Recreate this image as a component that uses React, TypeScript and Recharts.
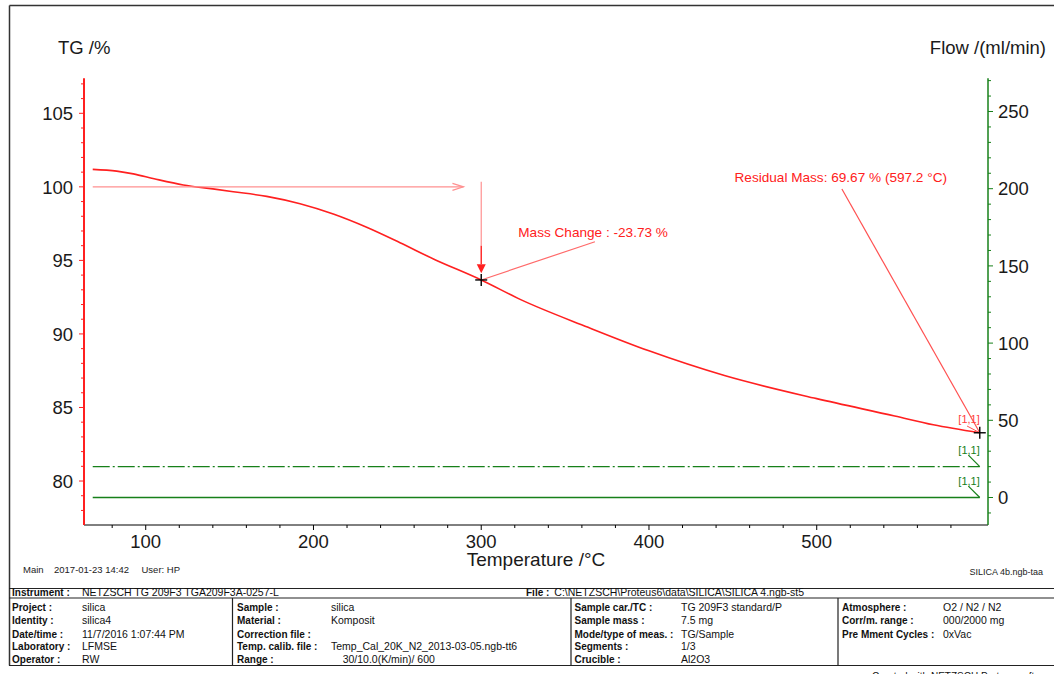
import React from "react";
import {
  ComposedChart,
  Line,
  XAxis,
  YAxis,
  ReferenceLine,
  ReferenceDot,
} from "recharts";

const FONT = '"Liberation Sans", Arial, Helvetica, sans-serif';

// TG curve: sample temperature (°C) and relative mass (%)
const temperatures = [
  68.4, 82.7, 92.6, 105, 122.4, 140, 152.2, 172.1, 192, 211.8, 231.7, 251.6,
  271.5, 300, 323.2, 363.7, 400, 445, 500, 546.5, 569.5, 597.2,
];
const tgValues = [
  101.19, 101.07, 100.88, 100.55, 100.13, 99.86, 99.67, 99.35, 98.85, 98.15,
  97.25, 96.2, 95.1, 93.67, 92.35, 90.45, 88.85, 87.17, 85.6, 84.42, 83.82,
  83.28,
];

// gas flows (ml/min) over the same run
const flowTemps = [68.4, 597.2];
const purgeFlow = [20, 20];
const protectiveFlow = [0, 0];

const tempTicks = [
  80, 100, 120, 140, 160, 180, 200, 220, 240, 260, 280, 300, 320, 340, 360,
  380, 400, 420, 440, 460, 480, 500, 520, 540, 560, 580,
];
const tgTicks = [
  78, 79, 80, 81, 82, 83, 84, 85, 86, 87, 88, 89, 90, 91, 92, 93, 94, 95, 96,
  97, 98, 99, 100, 101, 102, 103, 104, 105, 106, 107,
];
const flowTicks = [
  -10, 0, 10, 20, 30, 40, 50, 60, 70, 80, 90, 100, 110, 120, 130, 140, 150,
  160, 170, 180, 190, 200, 210, 220, 230, 240, 250, 260, 270,
];

// evaluation results
const stepStartMass = 100;
const stepTemp = 300;
const stepMass = 93.67;
const massChangeText = "Mass Change : -23.73 %";
const residualTemp = 597.2;
const residualMass = 83.28;
const residualText = "Residual Mass: 69.67 % (597.2 °C)";
const segmentTag = "[1,1]";

// measurement header
const instrument = "NETZSCH TG 209F3 TGA209F3A-0257-L";
const filePath = "C:\\NETZSCH\\Proteus6\\data\\SILICA\\SILICA 4.ngb-st5";
const headerColumns: [string, string][][] = [
  [
    ["Project :", "silica"],
    ["Identity :", "silica4"],
    ["Date/time :", "11/7/2016 1:07:44 PM"],
    ["Laboratory :", "LFMSE"],
    ["Operator :", "RW"],
  ],
  [
    ["Sample :", "silica"],
    ["Material :", "Komposit"],
    ["Correction file :", ""],
    ["Temp. calib. file :", "Temp_Cal_20K_N2_2013-03-05.ngb-tt6"],
    ["Range :", "    30/10.0(K/min)/ 600"],
  ],
  [
    ["Sample car./TC :", "TG 209F3 standard/P"],
    ["Sample mass :", "7.5 mg"],
    ["Mode/type of meas. :", "TG/Sample"],
    ["Segments :", "1/3"],
    ["Crucible :", "Al2O3"],
  ],
  [
    ["Atmosphere :", "O2 / N2 / N2"],
    ["Corr/m. range :", "000/2000 mg"],
    ["Pre Mment Cycles :", "0xVac"],
  ],
];

const RED = "#ff2020";
const PINK = "#ff9090";
const GREEN = "#17801a";

const tgData = temperatures.map((t, i) => ({ temp: t, tg: tgValues[i] }));
const purgeData = flowTemps.map((t, i) => ({ temp: t, flow: purgeFlow[i] }));
const protData = flowTemps.map((t, i) => ({ temp: t, flow: protectiveFlow[i] }));

const TempTick = (props: any) => {
  const { x, y, payload } = props;
  const v = payload.value;
  const major = v % 100 === 0;
  return (
    <g>
      <line x1={x} y1={y} x2={x} y2={y + (major ? 5 : 3)} stroke="#000" strokeWidth={1} />
      {major && (
        <text x={x} y={y + 23} textAnchor="middle" fontSize={18.5} fill="#1a1a1a" fontFamily={FONT}>
          {v}
        </text>
      )}
    </g>
  );
};

const TgTick = (props: any) => {
  const { x, y, payload } = props;
  const v = payload.value;
  const major = v % 5 === 0;
  return (
    <g>
      <line x1={x} y1={y} x2={x - (major ? 5 : 3)} y2={y} stroke={RED} strokeWidth={1} />
      {major && (
        <text x={x - 11} y={y + 6.7} textAnchor="end" fontSize={18.5} fill="#1a1a1a" fontFamily={FONT}>
          {v}
        </text>
      )}
    </g>
  );
};

const FlowTick = (props: any) => {
  const { x, y, payload } = props;
  const v = payload.value;
  const major = v % 50 === 0;
  return (
    <g>
      <line x1={x} y1={y} x2={x + (major ? 5 : 3)} y2={y} stroke={GREEN} strokeWidth={1} />
      {major && (
        <text x={x + 10} y={y + 6.7} textAnchor="start" fontSize={18.5} fill="#1a1a1a" fontFamily={FONT}>
          {v}
        </text>
      )}
    </g>
  );
};

// line segment with an optional arrow head at its end point
const arrow = (color: string, head: "open" | "filled" | "none", width = 1.2) =>
  function Arrow(props: any) {
    const { x1, y1, x2, y2 } = props;
    const len = Math.hypot(x2 - x1, y2 - y1) || 1;
    const ux = (x2 - x1) / len;
    const uy = (y2 - y1) / len;
    const hl = head === "filled" ? 9 : 11;
    const hw = head === "filled" ? 4.5 : 3.5;
    const bx = x2 - ux * hl;
    const by = y2 - uy * hl;
    const p1 = `${bx - uy * hw},${by + ux * hw}`;
    const p2 = `${bx + uy * hw},${by - ux * hw}`;
    return (
      <g>
        <line
          x1={x1}
          y1={y1}
          x2={head === "filled" ? bx : x2}
          y2={head === "filled" ? by : y2}
          stroke={color}
          strokeWidth={width}
        />
        {head === "open" && (
          <polyline points={`${p1} ${x2},${y2} ${p2}`} fill="none" stroke={color} strokeWidth={width} />
        )}
        {head === "filled" && <polygon points={`${p1} ${x2},${y2} ${p2}`} fill={color} stroke="none" />}
      </g>
    );
  };

const crossMark = (props: any) => {
  const { cx, cy } = props;
  return (
    <g stroke="#000" strokeWidth={1.4}>
      <line x1={cx - 6} y1={cy} x2={cx + 6} y2={cy} />
      <line x1={cx} y1={cy - 6} x2={cx} y2={cy + 6} />
    </g>
  );
};

const label = (text: string, color: string, size: number, anchor: "start" | "end") =>
  function Label(props: any) {
    return (
      <text x={props.cx} y={props.cy} fill={color} fontSize={size} textAnchor={anchor} fontFamily={FONT}>
        {text}
      </text>
    );
  };

const colLabelX = [12, 237, 574.5, 842];
const colValueX = [82, 331, 681, 943];
const rowBase = [610.5, 623.8, 637.6, 650.4, 663];

export default function App() {
  return (
    <div
      style={{
        position: "absolute",
        left: 0,
        top: 0,
        width: 1054,
        height: 674,
        overflow: "hidden",
        background: "#fff",
        fontFamily: FONT,
      }}
    >
      <ComposedChart
        width={1054}
        height={674}
        margin={{ top: 78.3, right: 6, bottom: 119, left: 24 }}
      >
        <XAxis
          dataKey="temp"
          type="number"
          domain={[63.2, 602.1]}
          ticks={tempTicks}
          interval={0}
          allowDataOverflow
          height={30}
          tickSize={0}
          tickMargin={0}
          tickLine={false}
          tick={<TempTick />}
          axisLine={{ stroke: "#000", strokeWidth: 1 }}
        />
        <YAxis
          yAxisId="tg"
          orientation="left"
          type="number"
          domain={[77.01, 107.38]}
          ticks={tgTicks}
          interval={0}
          allowDataOverflow
          width={60}
          tickSize={0}
          tickMargin={0}
          tickLine={false}
          tick={<TgTick />}
          axisLine={{ stroke: RED, strokeWidth: 2 }}
        />
        <YAxis
          yAxisId="flow"
          orientation="right"
          type="number"
          domain={[-17.8, 271.5]}
          ticks={flowTicks}
          interval={0}
          allowDataOverflow
          width={60}
          tickSize={0}
          tickMargin={0}
          tickLine={false}
          tick={<FlowTick />}
          axisLine={{ stroke: GREEN, strokeWidth: 1.5 }}
        />

        <Line
          yAxisId="flow"
          data={purgeData}
          dataKey="flow"
          stroke={GREEN}
          strokeWidth={1.3}
          strokeDasharray="17 3 2 3"
          dot={false}
          isAnimationActive={false}
        />
        <Line
          yAxisId="flow"
          data={protData}
          dataKey="flow"
          stroke={GREEN}
          strokeWidth={1.3}
          dot={false}
          isAnimationActive={false}
        />
        <Line
          yAxisId="tg"
          data={tgData}
          dataKey="tg"
          type="monotone"
          stroke={RED}
          strokeWidth={1.6}
          dot={false}
          isAnimationActive={false}
        />

        {/* mass step evaluation */}
        <ReferenceLine
          yAxisId="tg"
          segment={[{ x: temperatures[0], y: stepStartMass }, { x: 289.4, y: stepStartMass }]}
          shape={arrow(PINK, "open")}
        />
        <ReferenceLine
          yAxisId="tg"
          segment={[{ x: stepTemp, y: 100.35 }, { x: stepTemp, y: 96.0 }]}
          shape={arrow(PINK, "none")}
        />
        <ReferenceLine
          yAxisId="tg"
          segment={[{ x: stepTemp, y: 96.0 }, { x: stepTemp, y: 94.12 }]}
          shape={arrow(RED, "filled", 1.4)}
        />
        <ReferenceLine
          yAxisId="tg"
          segment={[{ x: stepTemp, y: stepMass }, { x: 367.8, y: 96.27 }]}
          shape={arrow("#ff6a6a", "none")}
        />
        <ReferenceDot yAxisId="tg" x={stepTemp} y={stepMass} shape={crossMark} />
        <ReferenceDot yAxisId="tg" x={322.1} y={96.57} shape={label(massChangeText, RED, 13.6, "start")} />

        {/* residual mass evaluation */}
        <ReferenceLine
          yAxisId="tg"
          segment={[{ x: 515, y: 99.85 }, { x: residualTemp, y: residualMass }]}
          shape={arrow("#ff5050", "none")}
        />
        <ReferenceDot yAxisId="tg" x={451} y={100.33} shape={label(residualText, RED, 13.6, "start")} />
        <ReferenceLine
          yAxisId="tg"
          segment={[{ x: 589.6, y: 83.74 }, { x: residualTemp, y: residualMass }]}
          shape={arrow("#ff5050", "none", 1)}
        />
        <ReferenceDot yAxisId="tg" x={residualTemp} y={residualMass} shape={crossMark} />
        <ReferenceDot yAxisId="tg" x={residualTemp} y={83.94} shape={label(segmentTag, "#ff4040", 11, "end")} />

        {/* segment tags on the gas flow curves */}
        <ReferenceLine
          yAxisId="flow"
          segment={[{ x: 590.4, y: 27.5 }, { x: flowTemps[1], y: purgeFlow[1] }]}
          shape={arrow(GREEN, "none", 1.2)}
        />
        <ReferenceDot yAxisId="flow" x={flowTemps[1]} y={28.2} shape={label(segmentTag, GREEN, 11, "end")} />
        <ReferenceLine
          yAxisId="flow"
          segment={[{ x: 590.4, y: 7.4 }, { x: flowTemps[1], y: protectiveFlow[1] }]}
          shape={arrow(GREEN, "none", 1.2)}
        />
        <ReferenceDot yAxisId="flow" x={flowTemps[1]} y={7.8} shape={label(segmentTag, GREEN, 11, "end")} />
      </ComposedChart>

      <svg
        width={1054}
        height={674}
        style={{ position: "absolute", left: 0, top: 0, pointerEvents: "none" }}
        fontFamily={FONT}
      >
        {/* page frame and header table */}
        <path d="M9.5 5.5 H1054 M9.5 5.5 V665.5" stroke="#333" strokeWidth={1.5} fill="none" />
        <path
          d="M9 588.5 H1054 M9 598 H1054 M9 665.5 H1054 M232.5 598 V665.5 M571 598 V665.5 M838 598 V665.5"
          stroke="#222"
          strokeWidth={1.2}
          fill="none"
        />

        <text x={58} y={53.5} fontSize={18.5} fill="#1a1a1a">TG /%</text>
        <text x={1046} y={53.5} fontSize={18.5} fill="#1a1a1a" textAnchor="end">Flow /(ml/min)</text>
        <text x={536} y={566} fontSize={19} fill="#1a1a1a" textAnchor="middle">Temperature /°C</text>

        <g fontSize={9.5} fill="#222">
          <text x={23} y={573}>Main</text>
          <text x={54} y={573}>2017-01-23 14:42</text>
          <text x={141.5} y={573}>User: HP</text>
          <text x={1043} y={574.5} textAnchor="end" fontSize={9}>SILICA 4b.ngb-taa</text>
        </g>

        <g fontSize={10.5} fill="#111">
          <text x={12} y={596}>
            <tspan fontWeight="bold" fontSize={10}>Instrument :</tspan>
          </text>
          <text x={82} y={596}>{instrument}</text>
          <text x={526} y={596}>
            <tspan fontWeight="bold" fontSize={10}>File :</tspan>
            <tspan dx={5}>{filePath}</tspan>
          </text>
          {headerColumns.map((col, ci) =>
            col.map(([k, v], ri) => (
              <g key={`${ci}-${ri}`}>
                <text x={colLabelX[ci]} y={rowBase[ri]} fontWeight="bold" fontSize={10}>
                  {k}
                </text>
                <text x={colValueX[ci]} y={rowBase[ri]} style={{ whiteSpace: "pre" }}>
                  {v}
                </text>
              </g>
            ))
          )}
          <text x={872} y={679.5} fontSize={10}>Created with NETZSCH Proteus software</text>
        </g>
      </svg>
    </div>
  );
}
